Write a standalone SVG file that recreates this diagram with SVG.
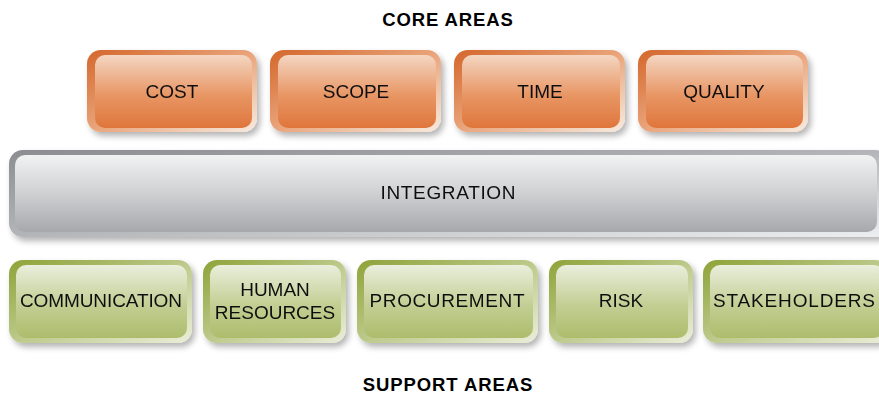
<svg xmlns="http://www.w3.org/2000/svg" width="879" height="397" viewBox="0 0 879 397">
<defs>
<linearGradient id="obd" x1="0" y1="0" x2="1" y2="1"><stop offset="0" stop-color="#d4672c"/><stop offset="0.5" stop-color="#e9a47a"/><stop offset="1" stop-color="#f7ebe0"/></linearGradient>
<linearGradient id="ofc" x1="0" y1="0" x2="0" y2="1"><stop offset="0" stop-color="#f4d6c2"/><stop offset="0.55" stop-color="#e89664"/><stop offset="1" stop-color="#df763c"/></linearGradient>
<linearGradient id="gbd" x1="0" y1="0" x2="1" y2="1"><stop offset="0" stop-color="#8ea338"/><stop offset="0.5" stop-color="#bcc98a"/><stop offset="1" stop-color="#ebeed9"/></linearGradient>
<linearGradient id="gfc" x1="0" y1="0" x2="0" y2="1"><stop offset="0" stop-color="#eaeedc"/><stop offset="0.55" stop-color="#c3ce93"/><stop offset="1" stop-color="#adbd6c"/></linearGradient>
<linearGradient id="ibd" x1="0" y1="0" x2="1" y2="1"><stop offset="0" stop-color="#8c8d90"/><stop offset="0.5" stop-color="#b4b5b8"/><stop offset="1" stop-color="#eeeff0"/></linearGradient>
<linearGradient id="ifc" x1="0" y1="0" x2="0" y2="1"><stop offset="0" stop-color="#f1f2f2"/><stop offset="0.5" stop-color="#cfd0d2"/><stop offset="1" stop-color="#a7a8ab"/></linearGradient>
<filter id="sh" x="-10%" y="-20%" width="125%" height="150%"><feGaussianBlur in="SourceAlpha" stdDeviation="3"/><feOffset dx="3" dy="4"/><feComponentTransfer><feFuncA type="linear" slope="0.3"/></feComponentTransfer><feMerge><feMergeNode/><feMergeNode in="SourceGraphic"/></feMerge></filter>
</defs>
<style>
.lbl{font-family:"Liberation Sans",Arial,sans-serif;font-size:19px;fill:#111;text-anchor:middle}
.ttl{font-family:"Liberation Sans",Arial,sans-serif;font-size:18.5px;font-weight:bold;fill:#000;text-anchor:middle;letter-spacing:0.9px}
.ob{fill:url(#obd)}.of{fill:url(#ofc)}
.gb{fill:url(#gbd)}.gf{fill:url(#gfc)}
.ib{fill:url(#ibd)}.if{fill:url(#ifc)}
</style>
<rect width="879" height="397" fill="#fff"/>
<text class="ttl" x="448" y="26">CORE AREAS</text>
<g id="cost" filter="url(#sh)"><rect class="ob" x="87" y="50" width="170" height="82" rx="14"/><rect class="of" x="95" y="55" width="157" height="73" rx="10"/><text class="lbl" x="172" y="98">COST</text></g>
<g id="scope" filter="url(#sh)"><rect class="ob" x="270" y="50" width="171" height="82" rx="14"/><rect class="of" x="278" y="55" width="158" height="73" rx="10"/><text class="lbl" x="356" y="98">SCOPE</text></g>
<g id="time" filter="url(#sh)"><rect class="ob" x="454" y="50" width="171" height="82" rx="14"/><rect class="of" x="462" y="55" width="158" height="73" rx="10"/><text class="lbl" x="540" y="98">TIME</text></g>
<g id="quality" filter="url(#sh)"><rect class="ob" x="638" y="50" width="170" height="82" rx="14"/><rect class="of" x="646" y="55" width="157" height="73" rx="10"/><text class="lbl" x="724" y="98">QUALITY</text></g>
<g id="integration" filter="url(#sh)"><rect class="ib" x="9" y="150" width="880" height="87" rx="14"/><rect class="if" x="15" y="155" width="862" height="77" rx="10"/><text class="lbl" x="448" y="199" textLength="135" lengthAdjust="spacing">INTEGRATION</text></g>
<g id="communication" filter="url(#sh)"><rect class="gb" x="9" y="260" width="183" height="83" rx="14"/><rect class="gf" x="16" y="265" width="171" height="73" rx="10"/><text class="lbl" x="101" y="307" textLength="162" lengthAdjust="spacing">COMMUNICATION</text></g>
<g id="human" filter="url(#sh)"><rect class="gb" x="203" y="260" width="143" height="83" rx="14"/><rect class="gf" x="210" y="265" width="131" height="73" rx="10"/><text class="lbl" x="275" y="296">HUMAN</text><text class="lbl" x="275" y="319">RESOURCES</text></g>
<g id="procurement" filter="url(#sh)"><rect class="gb" x="357" y="260" width="181" height="83" rx="14"/><rect class="gf" x="364" y="265" width="169" height="73" rx="10"/><text class="lbl" x="447" y="307" textLength="155" lengthAdjust="spacing">PROCUREMENT</text></g>
<g id="risk" filter="url(#sh)"><rect class="gb" x="549" y="260" width="144" height="83" rx="14"/><rect class="gf" x="556" y="265" width="132" height="73" rx="10"/><text class="lbl" x="621" y="307">RISK</text></g>
<g id="stakeholders" filter="url(#sh)"><rect class="gb" x="703" y="260" width="186" height="83" rx="14"/><rect class="gf" x="710" y="265" width="174" height="73" rx="10"/><text class="lbl" x="794" y="307" textLength="162" lengthAdjust="spacing">STAKEHOLDERS</text></g>
<g id="connectors"/>
<text class="ttl" x="448" y="391">SUPPORT AREAS</text>
</svg>
